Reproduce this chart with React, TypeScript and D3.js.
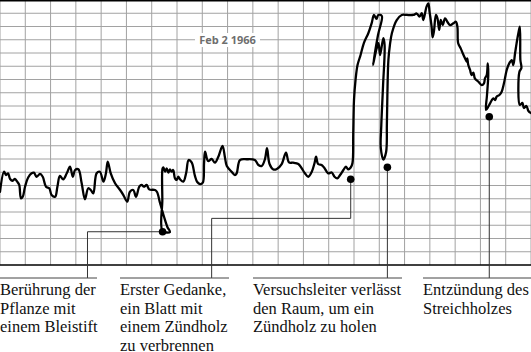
import React from "react";
import * as d3 from "d3";

// polygraph trace: time (tenths of a grid division) and reading (tenths of a division above baseline)
const traceT = [
  0, 1.6, 2.4, 3.2, 4.0, 5.0, 5.9, 6.8, 7.6, 8.3, 9.0, 9.9, 11.2, 12.5, 13.4, 14.5, 15.8, 16.9, 18.2, 19.5,
  20.4, 21.8, 22.7, 23.7, 25.0, 26.4, 27.7, 28.8, 29.7, 31.0, 32.3, 33.6, 34.9, 35.9, 36.9, 38.2, 39.5, 40.9, 41.9, 42.6,
  43.8, 45.5, 47.5, 48.8, 50.3, 51.4, 52.7, 53.8, 55.1, 56.0, 56.9, 58.0, 59.0, 61.3, 62.1, 63.3, 64.9, 66.2, 67.2, 64.3,
  64.2, 64.3, 64.6, 65.3, 65.9, 66.6, 67.2, 67.9, 68.5, 69.2, 69.9, 70.5, 71.2, 72.5, 73.6, 74.6, 75.8, 77.1, 78.0, 79.1,
  80.2, 80.7, 81.1, 82.3, 83.7, 85.0, 86.3, 88.0, 89.0, 89.7, 91.6, 92.9, 93.6, 94.9, 97.6, 100.8, 102.2, 103.5, 104.8, 105.6,
  106.6, 108.1, 109.5, 111.4, 113.1, 114.3, 115.9, 118.0, 119.3, 120.6, 121.9, 123.3, 124.4, 125.0, 125.8, 127.2, 128.3, 129.8, 131.2, 132.3,
  133.4, 134.5, 135.8, 136.8, 137.7, 138.7, 139.4, 139.7, 140.0, 140.6, 141.4, 142.6, 143.9, 145.7, 147.0, 147.9, 148.9, 149.6, 151.0, 149.5,
  147.5, 148.9, 149.7, 150.3, 151.6, 152.1, 151.5, 150.8, 150.6, 151.6, 152.7, 153.0, 153.2, 153.6, 154.2, 155.0, 156.9, 158.9, 160.8, 163.4,
  164.8, 165.9, 166.8, 167.4, 168.7, 169.4, 169.9, 170.7, 171.1, 171.6, 172.4, 173.0, 173.7, 174.3, 175.1, 176.0, 176.9, 178.0, 179.3, 180.3,
  180.9, 181.2, 182.2, 183.0, 183.9, 184.6, 184.8, 185.2, 185.9, 186.5, 187.2, 187.8, 189.2, 190.5, 191.4, 191.8, 192.5, 192.9, 193.1, 192.6,
  192.2, 193.1, 193.8, 194.5, 195.1, 195.8, 196.4, 197.5, 198.4, 199.3, 200.4, 201.4, 202.4, 203.0, 203.7, 204.3, 205.0, 205.6, 205.8, 206.2,
  205.4, 205.6, 206.6, 207.2, 208.2, 209.0, 210.0,
];
const traceV = [
  55.3, 70.4, 67.9, 69.2, 64.9, 63.6, 64.9, 62.9, 60.4, 50.3, 51.5, 59.1, 66.2, 69.2, 69.7, 66.6, 68.7, 66.6, 59.1, 57.9,
  52.8, 51.5, 59.1, 67.2, 64.7, 69.2, 74.2, 66.6, 71.7, 72.2, 61.7, 49.6, 57.9, 56.6, 54.1, 69.2, 70.4, 62.9, 69.2, 78.0,
  69.2, 61.7, 56.6, 52.8, 47.8, 55.3, 56.6, 51.5, 59.1, 60.4, 59.1, 60.4, 57.1, 56.6, 55.1, 46.8, 36.2, 28.7, 24.9, 25.7,
  49.1, 73.0, 73.7, 70.4, 73.0, 69.7, 72.2, 70.4, 71.7, 65.4, 64.2, 66.6, 64.7, 62.9, 69.2, 79.2, 77.4, 67.2, 62.6, 61.1,
  62.1, 76.8, 85.5, 78.5, 80.0, 77.2, 81.5, 89.8, 80.8, 74.7, 70.4, 67.9, 69.2, 79.2, 79.8, 79.2, 75.5, 74.7, 80.0, 88.1,
  76.2, 72.1, 72.5, 76.2, 84.8, 77.4, 77.2, 76.2, 73.0, 69.2, 66.6, 70.4, 77.0, 81.7, 76.2, 75.5, 73.2, 69.2, 69.8, 66.6,
  65.4, 67.9, 71.7, 74.2, 72.2, 73.6, 77.0, 99.6, 124.5, 139.6, 150.9, 158.5, 167.5, 175.1, 182.6, 188.7, 185.7, 188.7, 187.9, 173.6,
  150.9, 163.0, 167.5, 158.5, 171.3, 166.0, 135.8, 105.7, 88.3, 79.6, 85.3, 105.7, 128.3, 154.7, 166.0, 175.1, 184.9, 188.7, 188.7, 188.7,
  189.8, 187.5, 190.0, 184.9, 195.0, 197.4, 190.9, 179.8, 171.8, 176.1, 188.7, 186.2, 177.4, 184.9, 181.1, 186.2, 183.6, 181.1, 182.4, 183.6,
  179.6, 167.3, 163.5, 159.8, 156.0, 153.4, 156.0, 150.9, 147.2, 143.4, 145.1, 140.9, 138.3, 135.8, 137.1, 140.9, 143.4, 152.2, 143.4, 128.3,
  117.0, 119.5, 122.0, 124.5, 125.8, 124.5, 127.0, 128.3, 130.8, 137.1, 147.2, 152.2, 154.7, 150.9, 159.8, 167.3, 174.9, 179.8, 154.7, 148.7,
  145.7, 120.8, 122.3, 118.5, 120.0, 116.2, 114.7,
];

// annotated moments: marked point, elbow height of the leader and where its stem drops
const noteT = [64.3, 138.7, 153.2, 193.5];
const noteV = [25.1, 64.7, 73.7, 111.9];
const elbowV = [25.1, 35.2, 73.7, 111.9];
const stemT = [34.6, 83.7, 153.2, 193.5];
const noteLines = [
  ["Berührung der", "Pflanze mit", "einem Bleistift"],
  ["Erster Gedanke,", "ein Blatt mit", "einem Zündholz", "zu verbrennen"],
  ["Versuchsleiter verlässt", "den Raum, um ein", "Zündholz zu holen"],
  ["Entzündung des", "Streichholzes"],
];
const dateLabel = "Feb 2 1966";

const W = 531, H = 352;
const plotBottom = 265;
const ruleY = 278;
const columns = [[0, 97], [120, 229], [253, 402], [423, 531]];

export default function App() {
  const x = d3.scaleLinear([0, 210], [0, W]);
  const y = d3.scaleLinear([0, 200], [plotBottom, 0]);
  const pts: [number, number][] = traceT.map((t, i) => [x(t), y(traceV[i])]);
  const line = d3.line().curve(d3.curveCatmullRom.alpha(0.5));
  const vGrid = d3.range(0, 211, 10);
  const hGrid = d3.range(10, 200, 10);

  return (
    <svg width={W} height={H} style={{ position: "absolute", left: 0, top: 0 }}>
      <rect width={W} height={H} fill="#fff" />
      <g stroke="#a2a2a2" strokeWidth={1}>
        {vGrid.map(g => <line key={"v" + g} x1={x(g)} x2={x(g)} y1={0} y2={plotBottom} />)}
        {hGrid.map(g => <line key={"h" + g} x1={0} x2={W} y1={y(g)} y2={y(g)} />)}
      </g>
      <rect x={195} y={33} width={65} height={14} fill="#fff" />
      <text x={227.5} y={44} textAnchor="middle" fontFamily="'Open Sans'" fontWeight={700} fontSize={11} fill="#6e6e6e">
        {dateLabel}
      </text>
      <line x1={0} x2={W} y1={0} y2={0} stroke="#000" strokeWidth={3} />
      <line x1={0} x2={W} y1={plotBottom} y2={plotBottom} stroke="#000" strokeWidth={1.6} />
      <path d={line(pts) || ""} fill="none" stroke="#000" strokeWidth={2.3} strokeLinejoin="round" strokeLinecap="round" />
      <g stroke="#333" strokeWidth={1} fill="none">
        {noteT.map((t, i) => (
          <path key={i} d={`M${x(t)},${y(noteV[i])}V${y(elbowV[i])}H${x(stemT[i])}V${ruleY}`} />
        ))}
        {columns.map((c, i) => <line key={i} x1={c[0]} x2={c[1]} y1={ruleY} y2={ruleY} stroke="#444" />)}
      </g>
      {noteT.map((t, i) => <circle key={i} cx={x(t)} cy={y(noteV[i])} r={3.8} fill="#000" />)}
      <g fontFamily="'Liberation Serif'" fontSize={16.5} fill="#111">
        {noteLines.map((ls, i) => (
          <text key={i} x={columns[i][0]} y={295}>
            {ls.map((s, j) => <tspan key={j} x={columns[i][0]} dy={j === 0 ? 0 : 18.5}>{s}</tspan>)}
          </text>
        ))}
      </g>
    </svg>
  );
}
